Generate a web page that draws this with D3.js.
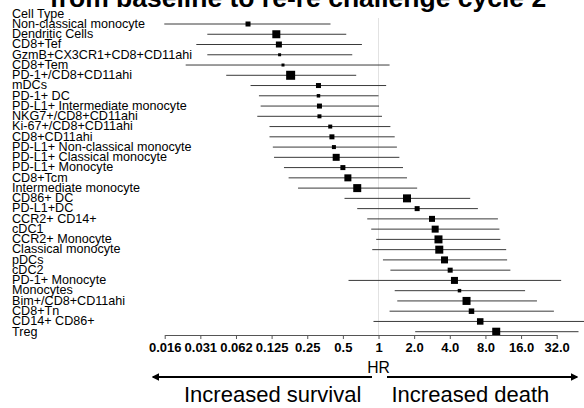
<!DOCTYPE html>
<html>
<head>
<meta charset="utf-8">
<script src="https://cdn.jsdelivr.net/npm/d3@7"></script>
<style>
  body { margin: 0; background: #fff; }
  svg { display: block; font-family: Arial, "Liberation Sans", sans-serif; }
</style>
</head>
<body>
<div id="chart"></div>
<script>
// cell types, top to bottom
var cells = ["Non-classical monocyte", "Dendritic Cells", "CD8+Tef", "GzmB+CX3CR1+CD8+CD11ahi",
  "CD8+Tem", "PD-1+/CD8+CD11ahi", "mDCs", "PD-1+ DC", "PD-L1+ Intermediate monocyte",
  "NKG7+/CD8+CD11ahi", "Ki-67+/CD8+CD11ahi", "CD8+CD11ahi", "PD-L1+ Non-classical monocyte",
  "PD-L1+ Classical monocyte", "PD-L1+ Monocyte", "CD8+Tcm", "Intermediate monocyte",
  "CD86+ DC", "PD-L1+DC", "CCR2+ CD14+", "cDC1", "CCR2+ Monocyte", "Classical monocyte",
  "pDCs", "cDC2", "PD-1+ Monocyte", "Monocytes", "Bim+/CD8+CD11ahi", "CD8+Tn",
  "CD14+ CD86+", "Treg"];

// hazard ratio and 95% CI
var hr = [0.079, 0.137, 0.144, 0.146, 0.156, 0.181, 0.311, 0.311, 0.317, 0.317, 0.391, 0.404,
  0.420, 0.439, 0.500, 0.551, 0.661, 1.74, 2.12, 2.83, 3.01, 3.21, 3.26, 3.61, 4.03, 4.38,
  4.83, 5.54, 6.10, 7.23, 9.87];
var lower = [0.0155, 0.0358, 0.0289, 0.0358, 0.0235, 0.0517, 0.083, 0.0977, 0.101, 0.0946,
  0.120, 0.120, 0.128, 0.131, 0.159, 0.174, 0.209, 0.516, 0.661, 0.803, 0.868, 0.956, 0.885,
  1.09, 1.26, 0.558, 1.37, 1.44, 1.24, 0.907, 2.04];
var upper = [0.393, 0.534, 0.724, 0.600, 1.24, 0.648, 1.16, 1.00, 1.01, 1.07, 1.26, 1.37,
  1.43, 1.50, 1.61, 1.74, 2.12, 5.95, 6.91, 10.2, 10.5, 10.7, 11.98, 12.2, 13.0, 34.9, 17.3,
  21.8, 30.3, 55.7, 48.9];
// relative weight (box size)
var weights = [5, 8, 6, 3, 3, 9, 5, 3.5, 5, 4, 4, 5, 4, 7, 5, 7, 8, 8, 5, 6, 7, 8, 8, 7, 5,
  7, 3.5, 8, 5.5, 6.5, 8];

var tickValues = [0.015625, 0.03125, 0.0625, 0.125, 0.25, 0.5, 1, 2, 4, 8, 16, 32];
var tickLabels = ["0.016", "0.031", "0.062", "0.125", "0.25", "0.5", "1", "2.0", "4.0", "8.0", "16.0", "32.0"];

var title = "from baseline to re-re challenge cycle 2";

var svgWidth = 584;
var svgHeight = 408;

var svg = d3.select("#chart")
  .append("svg")
  .attr("width", svgWidth)
  .attr("height", svgHeight);

var x = d3.scaleLog().base(2)
  .domain([0.015625, 32])
  .range([164.7, 556.7]);

var y = d3.scalePoint()
  .domain(cells)
  .range([24, 331.7]);

var size = d3.scaleLinear().domain([0, 10]).range([0, 10]);

var axisY = 335;

// title, clipped at the top
svg.append("text")
  .attr("x", 298)
  .attr("y", 7)
  .attr("text-anchor", "middle")
  .style("font-size", "26.5px")
  .style("font-weight", "bold")
  .text(title);

// reference line at HR = 1
svg.append("line")
  .attr("x1", x(1)).attr("x2", x(1))
  .attr("y1", 18).attr("y2", axisY)
  .attr("stroke", "#e2e2e2")
  .attr("stroke-width", 1);

// labels
var labelX = 12;
svg.append("text")
  .attr("x", labelX)
  .attr("y", y(cells[0]) - y.step() + 3.8)
  .style("font-size", "12.6px")
  .text("Cell Type");

svg.selectAll(".lab")
  .data(cells)
  .enter()
  .append("text")
  .attr("class", "lab")
  .attr("x", labelX)
  .attr("y", d => y(d) + 3.8)
  .style("font-size", "12.6px")
  .text(d => d);

var rows = cells.map(function(c, i) {
  return {cell: c, hr: hr[i], lo: lower[i], hi: upper[i], w: weights[i]};
});

// CI lines
svg.selectAll(".ci")
  .data(rows)
  .enter()
  .append("line")
  .attr("class", "ci")
  .attr("x1", d => x(d.lo))
  .attr("x2", d => x(d.hi))
  .attr("y1", d => y(d.cell))
  .attr("y2", d => y(d.cell))
  .attr("stroke", "#3a3a3a")
  .attr("stroke-width", 1);

// boxes
svg.selectAll(".box")
  .data(rows)
  .enter()
  .append("rect")
  .attr("class", "box")
  .attr("x", d => x(d.hr) - size(d.w) / 2)
  .attr("y", d => y(d.cell) - size(d.w) / 2)
  .attr("width", d => size(d.w))
  .attr("height", d => size(d.w))
  .attr("fill", "#000");

// x axis
var xAxis = d3.axisBottom(x)
  .tickValues(tickValues)
  .tickFormat((d, i) => tickLabels[i])
  .tickSizeInner(4)
  .tickSizeOuter(0)
  .tickPadding(4);

var gx = svg.append("g")
  .attr("transform", "translate(0," + axisY + ")")
  .call(xAxis);
gx.select(".domain").attr("stroke", "#555");
gx.selectAll(".tick line").attr("stroke", "#555");
gx.selectAll(".tick text")
  .attr("fill", "#000")
  .style("font-size", "13px")
  .style("font-weight", "bold")
  .style("font-family", "Arial, 'Liberation Sans', sans-serif");

svg.append("text")
  .attr("x", x(1))
  .attr("y", 372.5)
  .attr("text-anchor", "middle")
  .style("font-size", "15.7px")
  .text("HR");

// arrows
var defs = svg.append("defs");
defs.append("marker")
  .attr("id", "arr")
  .attr("viewBox", "0 0 10 10")
  .attr("refX", 8).attr("refY", 5)
  .attr("markerWidth", 3.4).attr("markerHeight", 3.4)
  .attr("orient", "auto-start-reverse")
  .append("path")
  .attr("d", "M0,0 L10,5 L0,10 z")
  .attr("fill", "#000");

var arrowY = 377;
svg.append("line")
  .attr("x1", 372).attr("x2", 153)
  .attr("y1", arrowY).attr("y2", arrowY)
  .attr("stroke", "#000").attr("stroke-width", 2.2)
  .attr("marker-end", "url(#arr)");
svg.append("line")
  .attr("x1", 387).attr("x2", 577)
  .attr("y1", arrowY).attr("y2", arrowY)
  .attr("stroke", "#000").attr("stroke-width", 2.2)
  .attr("marker-end", "url(#arr)");

svg.append("text")
  .attr("x", 184)
  .attr("y", 401.5)
  .style("font-size", "22px")
  .text("Increased survival");
svg.append("text")
  .attr("x", 391.5)
  .attr("y", 401.5)
  .style("font-size", "22px")
  .text("Increased death");
</script>
</body>
</html>
